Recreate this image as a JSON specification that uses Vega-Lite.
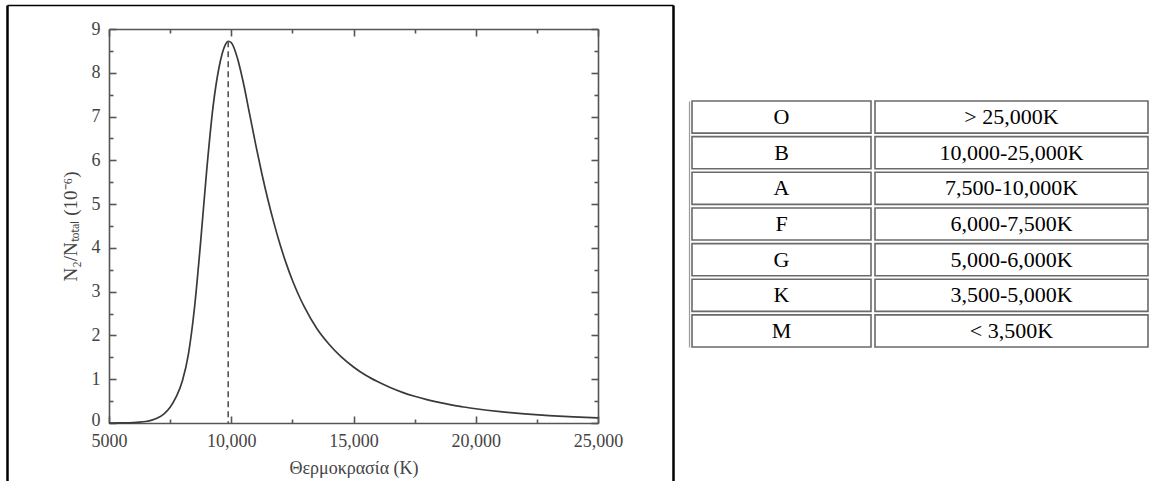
{
  "$schema": "https://vega.github.io/schema/vega-lite/v6.json",
  "width": 666,
  "height": 476,
  "autosize": {"type": "none"},
  "padding": {"left": 7, "top": 5, "right": 481, "bottom": 0},
  "background": "white",
  "config": {"view": {"stroke": null}, "font": "Liberation Serif", "axis": {"grid": false}},
  "datasets": {
    "curve": [
      {"T": 5000, "N": 0}, {"T": 5500, "N": 0.002}, {"T": 6000, "N": 0.008}, {"T": 6250, "N": 0.018},
      {"T": 6500, "N": 0.035}, {"T": 6750, "N": 0.065}, {"T": 7000, "N": 0.12}, {"T": 7250, "N": 0.21},
      {"T": 7500, "N": 0.36}, {"T": 7750, "N": 0.6}, {"T": 8000, "N": 0.96}, {"T": 8250, "N": 1.58},
      {"T": 8500, "N": 2.65}, {"T": 8750, "N": 4.15}, {"T": 9000, "N": 5.8}, {"T": 9250, "N": 7.2},
      {"T": 9500, "N": 8.12}, {"T": 9750, "N": 8.63}, {"T": 9875, "N": 8.72}, {"T": 10000, "N": 8.69},
      {"T": 10250, "N": 8.34}, {"T": 10500, "N": 7.76}, {"T": 10750, "N": 7.06}, {"T": 11000, "N": 6.36},
      {"T": 11250, "N": 5.7}, {"T": 11500, "N": 5.1}, {"T": 11750, "N": 4.56}, {"T": 12000, "N": 4.07},
      {"T": 12250, "N": 3.64}, {"T": 12500, "N": 3.26}, {"T": 12750, "N": 2.93}, {"T": 13000, "N": 2.64},
      {"T": 13500, "N": 2.16}, {"T": 14000, "N": 1.8}, {"T": 14500, "N": 1.51}, {"T": 15000, "N": 1.28},
      {"T": 15500, "N": 1.09}, {"T": 16000, "N": 0.94}, {"T": 16500, "N": 0.81}, {"T": 17000, "N": 0.7},
      {"T": 17500, "N": 0.61}, {"T": 18000, "N": 0.535}, {"T": 18500, "N": 0.47}, {"T": 19000, "N": 0.415},
      {"T": 19500, "N": 0.365}, {"T": 20000, "N": 0.325}, {"T": 21000, "N": 0.26}, {"T": 22000, "N": 0.21},
      {"T": 23000, "N": 0.17}, {"T": 24000, "N": 0.14}, {"T": 25000, "N": 0.115}
    ],
    "peak": [{"T": 9875, "N": 8.72}],
    "classes": [
      {"cls": "O", "temp": "> 25,000K"},
      {"cls": "B", "temp": "10,000-25,000K"},
      {"cls": "A", "temp": "7,500-10,000K"},
      {"cls": "F", "temp": "6,000-7,500K"},
      {"cls": "G", "temp": "5,000-6,000K"},
      {"cls": "K", "temp": "3,500-5,000K"},
      {"cls": "M", "temp": "< 3,500K"}
    ]
  },
  "layer": [
    {
      "layer": [
        {
          "data": {"name": "curve"},
          "mark": {"type": "line", "interpolate": "monotone", "color": "#3a3a3a", "strokeWidth": 1.7},
          "encoding": {
            "x": {
              "field": "T", "type": "quantitative",
              "scale": {"domain": [5000, 25000], "range": [102, 591], "nice": false, "zero": false},
              "axis": {
                "orient": "bottom", "offset": -58,
                "values": [5000, 7500, 10000, 12500, 15000, 17500, 20000, 22500, 25000],
                "labelExpr": "datum.value % 5000 === 0 ? (datum.value === 5000 ? '5000' : format(datum.value, ',')) : ''",
                "labelFlush": false, "labelOverlap": false,
                "tickSize": {"condition": {"test": "datum.value % 5000 === 0", "value": -7}, "value": -4},
                "labelPadding": 16,
                "domainColor": "#555", "domainWidth": 1.6, "tickColor": "#555", "tickWidth": 1.6,
                "labelColor": "#444", "labelFont": "Liberation Serif", "labelFontSize": 18,
                "title": "Θερμοκρασία (K)", "titleColor": "#444", "titleFont": "Liberation Serif",
                "titleFontSize": 18, "titleFontWeight": "normal", "titlePadding": 6
              }
            },
            "y": {
              "field": "N", "type": "quantitative",
              "scale": {"domain": [0, 9], "range": [418, 24], "nice": false, "zero": false},
              "axis": {
                "orient": "left", "offset": -102,
                "values": [0, 0.5, 1, 1.5, 2, 2.5, 3, 3.5, 4, 4.5, 5, 5.5, 6, 6.5, 7, 7.5, 8, 8.5, 9],
                "labelExpr": "datum.value % 1 === 0 ? format(datum.value, 'd') : ''",
                "labelOverlap": false,
                "labelOffset": {"condition": {"test": "datum.value === 0", "value": -3}, "value": 0},
                "tickSize": {"condition": {"test": "datum.value % 1 === 0", "value": -7}, "value": -4},
                "labelPadding": 16,
                "domainColor": "#555", "domainWidth": 1.6, "tickColor": "#555", "tickWidth": 1.6,
                "labelColor": "#444", "labelFont": "Liberation Serif", "labelFontSize": 18,
                "title": "N₂/Nₜₒₜₐₗ (10⁻⁶)", "titleColor": "#444", "titleFont": "Liberation Serif",
                "titleFontSize": 19, "titleFontWeight": "normal", "titlePadding": 11
              }
            }
          }
        },
        {
          "data": {"name": "peak"},
          "mark": {"type": "rule", "color": "#555", "strokeWidth": 1.6, "strokeDash": [6, 4]},
          "encoding": {
            "x": {
              "field": "T", "type": "quantitative",
              "axis": {
                "orient": "top", "offset": -24,
                "values": [5000, 7500, 10000, 12500, 15000, 17500, 20000, 22500, 25000],
                "labels": false, "title": null,
                "tickSize": {"condition": {"test": "datum.value % 5000 === 0", "value": -7}, "value": -4},
                "domainColor": "#555", "domainWidth": 1.6, "tickColor": "#555", "tickWidth": 1.6
              }
            },
            "y": {
              "field": "N", "type": "quantitative",
              "axis": {
                "orient": "right", "offset": -75,
                "values": [0, 0.5, 1, 1.5, 2, 2.5, 3, 3.5, 4, 4.5, 5, 5.5, 6, 6.5, 7, 7.5, 8, 8.5, 9],
                "labels": false, "title": null,
                "tickSize": {"condition": {"test": "datum.value % 1 === 0", "value": -7}, "value": -4},
                "domainColor": "#555", "domainWidth": 1.6, "tickColor": "#555", "tickWidth": 1.6
              }
            },
            "y2": {"datum": 0}
          }
        }
      ],
      "resolve": {"axis": {"x": "independent", "y": "independent"}}
    },
    {
      "data": {"name": "classes"},
      "layer": [
        {
          "mark": {"type": "rect", "fill": "white", "stroke": "#6a6a6a", "strokeWidth": 1.6},
          "encoding": {
            "x": {"datum": 0, "type": "quantitative", "scale": {"domain": [0, 456], "range": [685, 1141], "nice": false, "zero": false}, "axis": null},
            "x2": {"datum": 179},
            "y": {
              "field": "cls", "type": "nominal", "sort": null,
              "scale": {"range": [96, 342], "paddingInner": 0.1, "paddingOuter": 0},
              "axis": {"orient": "left", "offset": -682, "domain": true, "domainColor": "#999", "domainWidth": 1.2, "ticks": false, "labels": false, "title": null}
            }
          }
        },
        {
          "mark": {"type": "rect", "fill": "white", "stroke": "#6a6a6a", "strokeWidth": 1.6},
          "encoding": {
            "x": {"datum": 183, "type": "quantitative"},
            "x2": {"datum": 456},
            "y": {"field": "cls", "type": "nominal", "sort": null}
          }
        },
        {
          "mark": {"type": "text", "font": "Liberation Serif", "fontSize": 22, "color": "#000", "align": "center", "baseline": "middle"},
          "encoding": {
            "x": {"datum": 89.5, "type": "quantitative"},
            "y": {"field": "cls", "type": "nominal", "sort": null},
            "text": {"field": "cls"}
          }
        },
        {
          "mark": {"type": "text", "font": "Liberation Serif", "fontSize": 22, "color": "#000", "align": "center", "baseline": "middle"},
          "encoding": {
            "x": {"datum": 319.5, "type": "quantitative"},
            "y": {"field": "cls", "type": "nominal", "sort": null},
            "text": {"field": "temp"}
          }
        }
      ]
    },
    {
      "data": {"values": [{}]},
      "layer": [
        {
          "mark": {"type": "point", "opacity": 0},
          "encoding": {
            "x": {"datum": 0, "type": "quantitative", "scale": {"domain": [0, 1], "nice": false, "zero": false},
                  "axis": {"orient": "top", "offset": 0, "domain": true, "domainColor": "#000", "domainWidth": 1.5, "ticks": false, "labels": false, "title": null}},
            "y": {"datum": 0, "type": "quantitative", "scale": {"domain": [0, 1], "nice": false, "zero": false},
                  "axis": {"orient": "left", "offset": 0, "domain": true, "domainColor": "#000", "domainWidth": 2.5, "ticks": false, "labels": false, "title": null}}
          }
        },
        {
          "mark": {"type": "point", "opacity": 0},
          "encoding": {
            "x": {"datum": 0, "type": "quantitative", "axis": null},
            "y": {"datum": 0, "type": "quantitative",
                  "axis": {"orient": "right", "offset": 0, "domain": true, "domainColor": "#000", "domainWidth": 2.5, "ticks": false, "labels": false, "title": null}}
          }
        }
      ],
      "resolve": {"axis": {"x": "independent", "y": "independent"}}
    }
  ],
  "resolve": {"scale": {"x": "independent", "y": "independent"}, "axis": {"x": "independent", "y": "independent"}}
}
